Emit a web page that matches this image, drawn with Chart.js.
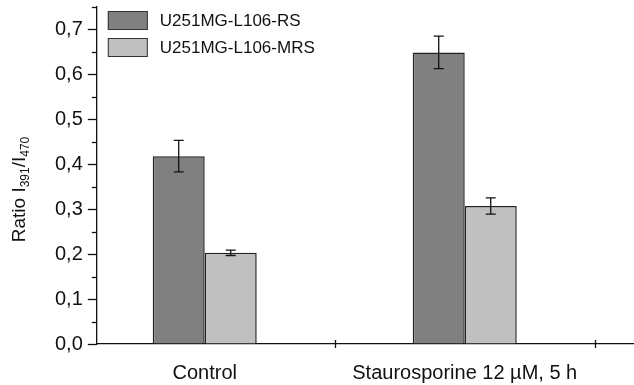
<!DOCTYPE html>
<html>
<head>
<meta charset="utf-8">
<script src="https://cdn.jsdelivr.net/npm/chart.js"></script>
<style>
  html, body { margin: 0; padding: 0; background: #fff; }
  #wrap { width: 634px; height: 385px; position: relative; }
</style>
</head>
<body>
<div id="wrap"><canvas id="chart"></canvas></div>
<script>
// data
const categories = ['Control', 'Staurosporine 12 µM, 5 h'];
const seriesLabels = ['U251MG-L106-RS', 'U251MG-L106-MRS'];
const rsValues = [0.418, 0.649];
const rsErrors = [0.035, 0.036];
const mrsValues = [0.203, 0.307];
const mrsErrors = [0.006, 0.018];
const yTickLabels = ['0,0', '0,1', '0,2', '0,3', '0,4', '0,5', '0,6', '0,7'];

const FONT = "'Liberation Sans', Arial, Helvetica, sans-serif";
const INK = '#111';

// x positions: categories sit at 1, 2 ; dividers between them
const positions = categories.map((c, i) => i + 1);
const dividers = positions.map(p => p + 0.5);

// tick marks, legend, y title, error bars
const decorations = {
    id: 'decorations',
    afterDatasetsDraw(chart) {
        const ctx = chart.ctx;
        const y = chart.scales.y;
        ctx.save();
        ctx.strokeStyle = INK;
        ctx.lineWidth = 1.3;
        chart.data.datasets.forEach((ds, di) => {
            const meta = chart.getDatasetMeta(di);
            meta.data.forEach((bar, i) => {
                const v = ds.data[i].y, e = ds.errors[i];
                const top = y.getPixelForValue(v + e);
                const bot = y.getPixelForValue(v - e);
                ctx.beginPath();
                ctx.moveTo(bar.x, top); ctx.lineTo(bar.x, bot);
                ctx.moveTo(bar.x - 5, top); ctx.lineTo(bar.x + 5, top);
                ctx.moveTo(bar.x - 5, bot); ctx.lineTo(bar.x + 5, bot);
                ctx.stroke();
            });
        });
        ctx.restore();
    },
    afterDraw(chart) {
        const ctx = chart.ctx;
        const { x, y } = chart.scales;
        const area = chart.chartArea;
        ctx.save();
        ctx.strokeStyle = INK;
        ctx.lineWidth = 1.3;
        // y ticks: major every 0.1, minor every 0.05
        for (let k = 0; k <= 15; k++) {
            const py = Math.round(y.getPixelForValue(k * 0.05)) + 0.5;
            const len = k % 2 === 0 ? 9 : 5;
            ctx.beginPath();
            ctx.moveTo(area.left - len, py);
            ctx.lineTo(area.left, py);
            ctx.stroke();
        }
        // x dividers cross the axis
        dividers.forEach(d => {
            const px = Math.round(x.getPixelForValue(d)) + 0.5;
            ctx.beginPath();
            ctx.moveTo(px, area.bottom - 4);
            ctx.lineTo(px, area.bottom + 4);
            ctx.stroke();
        });

        // legend
        ctx.font = '17px ' + FONT;
        ctx.textBaseline = 'middle';
        ctx.fillStyle = INK;
        chart.data.datasets.forEach((ds, i) => {
            const bx = area.left + 11, by = 11 + i * 27;
            ctx.fillStyle = ds.backgroundColor;
            ctx.fillRect(bx, by, 40, 19);
            ctx.lineWidth = 1;
            ctx.strokeStyle = '#333';
            ctx.strokeRect(bx + 0.5, by + 0.5, 39, 18);
            ctx.fillStyle = INK;
            ctx.fillText(ds.label, bx + 52, by + 10);
        });

        // y title with subscripts
        const big = '19px ' + FONT, small = '12px ' + FONT;
        const parts = [['Ratio I', big, 0], ['391', small, 4], ['/I', big, 0], ['470', small, 4]];
        let total = 0;
        parts.forEach(p => { ctx.font = p[1]; total += ctx.measureText(p[0]).width; });
        ctx.translate(25, (area.top + area.bottom) / 2 + 14);
        ctx.rotate(-Math.PI / 2);
        ctx.textBaseline = 'alphabetic';
        ctx.textAlign = 'left';
        let cx = -total / 2;
        parts.forEach(p => {
            ctx.font = p[1];
            ctx.fillText(p[0], cx, p[2]);
            cx += ctx.measureText(p[0]).width;
        });
        ctx.restore();
    }
};

new Chart(document.getElementById('chart'), {
    type: 'bar',
    data: {
        datasets: [
            {
                label: seriesLabels[0],
                data: positions.map((p, i) => ({ x: p, y: rsValues[i] })),
                errors: rsErrors,
                backgroundColor: '#808080',
                borderColor: '#222',
                borderWidth: 1.5,
                categoryPercentage: 0.4,
                barPercentage: 1.0
            },
            {
                label: seriesLabels[1],
                data: positions.map((p, i) => ({ x: p, y: mrsValues[i] })),
                errors: mrsErrors,
                backgroundColor: '#c0c0c0',
                borderColor: '#222',
                borderWidth: 1.5,
                categoryPercentage: 0.4,
                barPercentage: 1.0
            }
        ]
    },
    options: {
        responsive: true,
        maintainAspectRatio: false,
        animation: false,
        layout: { padding: { left: 50, top: 7, right: 0, bottom: -9 } },
        plugins: {
            legend: { display: false },
            tooltip: { enabled: false }
        },
        scales: {
            x: {
                type: 'linear',
                offset: false,
                min: 0.585,
                max: 2.651,
                afterBuildTicks(scale) {
                    scale.ticks = positions.map(p => ({ value: p }));
                },
                ticks: {
                    autoSkip: false,
                    maxRotation: 0,
                    padding: 9,
                    color: INK,
                    font: { family: FONT, size: 20 },
                    callback: (v) => categories[Math.round(v) - 1]
                },
                grid: { offset: false, drawOnChartArea: false, tickLength: 8, tickColor: 'rgba(0,0,0,0)' },
                border: { color: INK, width: 1.3 }
            },
            y: {
                min: 0,
                max: 0.75,
                afterBuildTicks(scale) {
                    scale.ticks = yTickLabels.map((l, i) => ({ value: i / 10 }));
                },
                ticks: {
                    padding: 5,
                    color: INK,
                    font: { family: FONT, size: 20, lineHeight: 0.2 },
                    callback: (v) => yTickLabels[Math.round(v * 10)]
                },
                grid: { drawOnChartArea: false, tickLength: 9, tickColor: 'rgba(0,0,0,0)' },
                border: { color: INK, width: 1.3 }
            }
        }
    },
    plugins: [decorations]
});
</script>
</body>
</html>
